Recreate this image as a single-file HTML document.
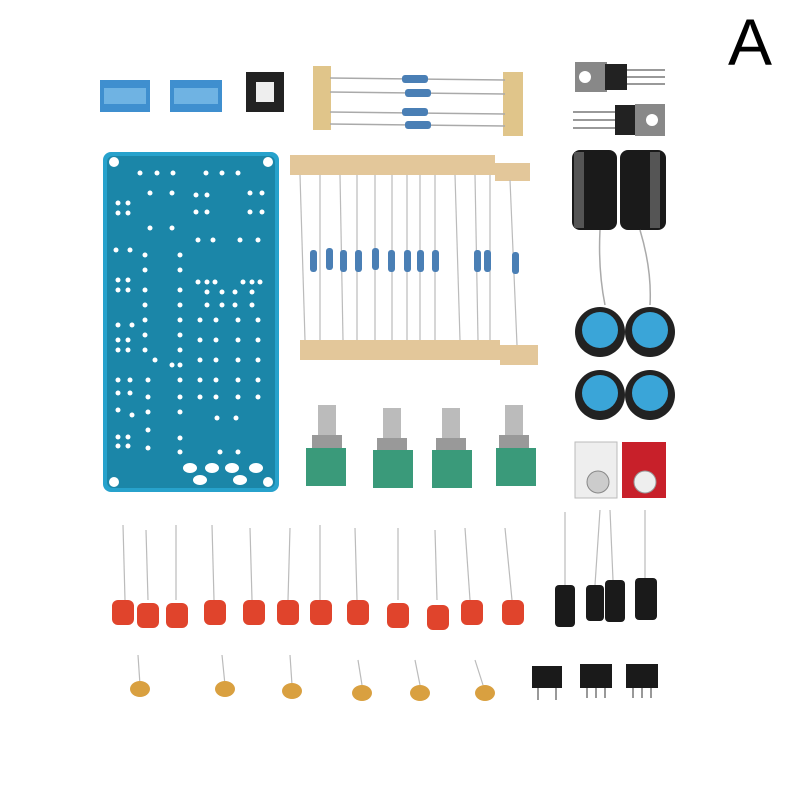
<!DOCTYPE html>
<html><head><style>html,body{margin:0;padding:0;background:#fff}svg{display:block}</style></head><body>
<svg width="800" height="800" viewBox="0 0 800 800" xmlns="http://www.w3.org/2000/svg">
<rect width="800" height="800" fill="#fff"/>
<text x="750" y="65" font-family="Liberation Sans, sans-serif" font-size="66" text-anchor="middle" fill="#000">A</text>
<!-- top connectors -->
<rect x="100" y="80" width="50" height="32" fill="#3f8fcf"/><rect x="104" y="88" width="42" height="16" fill="#6fb3e3"/>
<rect x="170" y="80" width="52" height="32" fill="#3f8fcf"/><rect x="174" y="88" width="44" height="16" fill="#6fb3e3"/>
<rect x="246" y="72" width="38" height="40" fill="#222"/><rect x="256" y="82" width="18" height="20" fill="#eee"/>
<!-- top resistors -->
<rect x="313" y="66" width="18" height="64" fill="#e0c58a"/><rect x="503" y="72" width="20" height="64" fill="#e0c58a"/>
<g stroke="#aaa" stroke-width="1.5"><line x1="330" y1="78" x2="505" y2="80"/><line x1="330" y1="92" x2="505" y2="94"/><line x1="330" y1="112" x2="505" y2="114"/><line x1="330" y1="124" x2="505" y2="126"/></g>
<g fill="#4a7fb5"><rect x="402" y="75" width="26" height="8" rx="3"/><rect x="405" y="89" width="26" height="8" rx="3"/><rect x="402" y="108" width="26" height="8" rx="3"/><rect x="405" y="121" width="26" height="8" rx="3"/></g>
<!-- transistors -->
<rect x="575" y="62" width="32" height="30" fill="#888"/><circle cx="585" cy="77" r="6" fill="#fff"/><rect x="605" y="64" width="22" height="26" fill="#222"/>
<g stroke="#999" stroke-width="2"><line x1="627" y1="70" x2="665" y2="70"/><line x1="627" y1="77" x2="665" y2="77"/><line x1="627" y1="84" x2="665" y2="84"/></g>
<rect x="615" y="105" width="22" height="30" fill="#222"/><rect x="635" y="104" width="30" height="32" fill="#888"/><circle cx="652" cy="120" r="6" fill="#fff"/>
<g stroke="#999" stroke-width="2"><line x1="573" y1="112" x2="615" y2="112"/><line x1="573" y1="120" x2="615" y2="120"/><line x1="573" y1="128" x2="615" y2="128"/></g>
<!-- big caps -->
<rect x="572" y="150" width="45" height="80" rx="8" fill="#1a1a1a"/><rect x="620" y="150" width="46" height="80" rx="8" fill="#1a1a1a"/>
<rect x="574" y="152" width="10" height="76" fill="#555"/><rect x="650" y="152" width="10" height="76" fill="#555"/>
<g stroke="#aaa" stroke-width="1.5" fill="none"><path d="M600 230 Q598 270 605 305"/><path d="M640 230 Q652 270 650 305"/></g>
<!-- knobs -->
<g><circle cx="600" cy="332" r="25" fill="#222"/><circle cx="600" cy="330" r="18" fill="#3aa5d8"/>
<circle cx="650" cy="332" r="25" fill="#222"/><circle cx="650" cy="330" r="18" fill="#3aa5d8"/>
<circle cx="600" cy="395" r="25" fill="#222"/><circle cx="600" cy="393" r="18" fill="#3aa5d8"/>
<circle cx="650" cy="395" r="25" fill="#222"/><circle cx="650" cy="393" r="18" fill="#3aa5d8"/></g>
<!-- resistor band -->
<rect x="290" y="155" width="205" height="20" fill="#e3c79a"/><rect x="495" y="163" width="35" height="18" fill="#e3c79a"/>
<rect x="300" y="340" width="200" height="20" fill="#e3c79a"/><rect x="500" y="345" width="38" height="20" fill="#e3c79a"/>
<g stroke="#bbb" stroke-width="1.2">
<line x1="300" y1="175" x2="305" y2="340"/><line x1="320" y1="175" x2="320" y2="340"/><line x1="340" y1="175" x2="343" y2="340"/><line x1="357" y1="175" x2="357" y2="340"/><line x1="375" y1="175" x2="375" y2="340"/><line x1="392" y1="175" x2="392" y2="340"/><line x1="407" y1="175" x2="407" y2="340"/><line x1="420" y1="175" x2="420" y2="340"/><line x1="435" y1="175" x2="435" y2="340"/><line x1="455" y1="175" x2="460" y2="340"/><line x1="475" y1="175" x2="478" y2="340"/><line x1="490" y1="175" x2="490" y2="340"/><line x1="510" y1="180" x2="517" y2="345"/></g>
<g fill="#4a7fb5"><rect x="310" y="250" width="7" height="22" rx="3"/><rect x="326" y="248" width="7" height="22" rx="3"/><rect x="340" y="250" width="7" height="22" rx="3"/><rect x="355" y="250" width="7" height="22" rx="3"/><rect x="372" y="248" width="7" height="22" rx="3"/><rect x="388" y="250" width="7" height="22" rx="3"/><rect x="404" y="250" width="7" height="22" rx="3"/><rect x="417" y="250" width="7" height="22" rx="3"/><rect x="432" y="250" width="7" height="22" rx="3"/><rect x="474" y="250" width="7" height="22" rx="3"/><rect x="484" y="250" width="7" height="22" rx="3"/><rect x="512" y="252" width="7" height="22" rx="3"/></g>
<!-- PCB -->
<rect x="103" y="152" width="176" height="340" rx="8" fill="#27a2cc"/>
<rect x="107" y="156" width="168" height="332" rx="6" fill="#1b86a8"/>
<g fill="#fff"><circle cx="114" cy="162" r="5"/><circle cx="268" cy="162" r="5"/><circle cx="114" cy="482" r="5"/><circle cx="268" cy="482" r="5"/>
<ellipse cx="190" cy="468" rx="7" ry="5"/><ellipse cx="212" cy="468" rx="7" ry="5"/><ellipse cx="232" cy="468" rx="7" ry="5"/><ellipse cx="256" cy="468" rx="7" ry="5"/><ellipse cx="200" cy="480" rx="7" ry="5"/><ellipse cx="240" cy="480" rx="7" ry="5"/></g>
<g fill="#fff">
<circle cx="140" cy="173" r="2.5"/><circle cx="157" cy="173" r="2.5"/><circle cx="173" cy="173" r="2.5"/><circle cx="206" cy="173" r="2.5"/><circle cx="222" cy="173" r="2.5"/><circle cx="238" cy="173" r="2.5"/>
<circle cx="150" cy="193" r="2.5"/><circle cx="172" cy="193" r="2.5"/><circle cx="196" cy="195" r="2.5"/><circle cx="207" cy="195" r="2.5"/><circle cx="250" cy="193" r="2.5"/><circle cx="262" cy="193" r="2.5"/>
<circle cx="118" cy="203" r="2.5"/><circle cx="128" cy="203" r="2.5"/><circle cx="118" cy="213" r="2.5"/><circle cx="128" cy="213" r="2.5"/><circle cx="196" cy="212" r="2.5"/><circle cx="207" cy="212" r="2.5"/><circle cx="250" cy="212" r="2.5"/><circle cx="262" cy="212" r="2.5"/>
<circle cx="150" cy="228" r="2.5"/><circle cx="172" cy="228" r="2.5"/><circle cx="213" cy="240" r="2.5"/><circle cx="240" cy="240" r="2.5"/><circle cx="198" cy="240" r="2.5"/><circle cx="258" cy="240" r="2.5"/>
<circle cx="116" cy="250" r="2.5"/><circle cx="130" cy="250" r="2.5"/><circle cx="145" cy="255" r="2.5"/><circle cx="180" cy="255" r="2.5"/>
<circle cx="145" cy="270" r="2.5"/><circle cx="180" cy="270" r="2.5"/><circle cx="118" cy="280" r="2.5"/><circle cx="128" cy="280" r="2.5"/><circle cx="118" cy="290" r="2.5"/><circle cx="128" cy="290" r="2.5"/><circle cx="198" cy="282" r="2.5"/><circle cx="207" cy="282" r="2.5"/><circle cx="215" cy="282" r="2.5"/><circle cx="243" cy="282" r="2.5"/><circle cx="252" cy="282" r="2.5"/><circle cx="260" cy="282" r="2.5"/>
<circle cx="145" cy="290" r="2.5"/><circle cx="180" cy="290" r="2.5"/><circle cx="207" cy="292" r="2.5"/><circle cx="222" cy="292" r="2.5"/><circle cx="235" cy="292" r="2.5"/><circle cx="252" cy="292" r="2.5"/>
<circle cx="145" cy="305" r="2.5"/><circle cx="180" cy="305" r="2.5"/><circle cx="207" cy="305" r="2.5"/><circle cx="222" cy="305" r="2.5"/><circle cx="235" cy="305" r="2.5"/><circle cx="252" cy="305" r="2.5"/>
<circle cx="118" cy="325" r="2.5"/><circle cx="132" cy="325" r="2.5"/><circle cx="145" cy="320" r="2.5"/><circle cx="180" cy="320" r="2.5"/><circle cx="200" cy="320" r="2.5"/><circle cx="216" cy="320" r="2.5"/><circle cx="238" cy="320" r="2.5"/><circle cx="258" cy="320" r="2.5"/>
<circle cx="118" cy="340" r="2.5"/><circle cx="128" cy="340" r="2.5"/><circle cx="118" cy="350" r="2.5"/><circle cx="128" cy="350" r="2.5"/><circle cx="145" cy="335" r="2.5"/><circle cx="180" cy="335" r="2.5"/><circle cx="200" cy="340" r="2.5"/><circle cx="216" cy="340" r="2.5"/><circle cx="238" cy="340" r="2.5"/><circle cx="258" cy="340" r="2.5"/>
<circle cx="145" cy="350" r="2.5"/><circle cx="180" cy="350" r="2.5"/><circle cx="200" cy="360" r="2.5"/><circle cx="216" cy="360" r="2.5"/><circle cx="238" cy="360" r="2.5"/><circle cx="258" cy="360" r="2.5"/>
<circle cx="155" cy="360" r="2.5"/><circle cx="172" cy="365" r="2.5"/><circle cx="180" cy="365" r="2.5"/><circle cx="118" cy="380" r="2.5"/><circle cx="130" cy="380" r="2.5"/><circle cx="118" cy="393" r="2.5"/><circle cx="130" cy="393" r="2.5"/>
<circle cx="148" cy="380" r="2.5"/><circle cx="180" cy="380" r="2.5"/><circle cx="200" cy="380" r="2.5"/><circle cx="216" cy="380" r="2.5"/><circle cx="238" cy="380" r="2.5"/><circle cx="258" cy="380" r="2.5"/>
<circle cx="148" cy="397" r="2.5"/><circle cx="180" cy="397" r="2.5"/><circle cx="200" cy="397" r="2.5"/><circle cx="216" cy="397" r="2.5"/><circle cx="238" cy="397" r="2.5"/><circle cx="258" cy="397" r="2.5"/>
<circle cx="118" cy="410" r="2.5"/><circle cx="132" cy="415" r="2.5"/><circle cx="148" cy="412" r="2.5"/><circle cx="180" cy="412" r="2.5"/><circle cx="217" cy="418" r="2.5"/><circle cx="236" cy="418" r="2.5"/>
<circle cx="118" cy="437" r="2.5"/><circle cx="128" cy="437" r="2.5"/><circle cx="118" cy="446" r="2.5"/><circle cx="128" cy="446" r="2.5"/><circle cx="148" cy="430" r="2.5"/><circle cx="180" cy="438" r="2.5"/><circle cx="148" cy="448" r="2.5"/><circle cx="180" cy="452" r="2.5"/><circle cx="220" cy="452" r="2.5"/><circle cx="238" cy="452" r="2.5"/>
</g>
<!-- pots -->
<g>
<rect x="318" y="405" width="18" height="35" fill="#bbb"/><rect x="312" y="435" width="30" height="15" fill="#999"/><rect x="306" y="448" width="40" height="38" fill="#3a9a7a"/>
<rect x="383" y="408" width="18" height="35" fill="#bbb"/><rect x="377" y="438" width="30" height="15" fill="#999"/><rect x="373" y="450" width="40" height="38" fill="#3a9a7a"/>
<rect x="442" y="408" width="18" height="35" fill="#bbb"/><rect x="436" y="438" width="30" height="15" fill="#999"/><rect x="432" y="450" width="40" height="38" fill="#3a9a7a"/>
<rect x="505" y="405" width="18" height="35" fill="#bbb"/><rect x="499" y="435" width="30" height="15" fill="#999"/><rect x="496" y="448" width="40" height="38" fill="#3a9a7a"/>
</g>
<!-- RCA jacks -->
<rect x="575" y="442" width="42" height="56" fill="#eee" stroke="#bbb"/><circle cx="598" cy="482" r="11" fill="#ccc" stroke="#888"/>
<rect x="622" y="442" width="44" height="56" fill="#c8202a"/><circle cx="645" cy="482" r="11" fill="#eee" stroke="#999"/>
<!-- ceramic caps -->
<g stroke="#bbb" stroke-width="1.2">
<line x1="123" y1="525" x2="125" y2="600"/><line x1="146" y1="530" x2="148" y2="600"/><line x1="176" y1="525" x2="176" y2="600"/><line x1="212" y1="525" x2="214" y2="600"/><line x1="250" y1="528" x2="252" y2="600"/><line x1="290" y1="528" x2="288" y2="600"/><line x1="320" y1="525" x2="320" y2="600"/><line x1="355" y1="528" x2="357" y2="600"/><line x1="398" y1="528" x2="398" y2="600"/><line x1="435" y1="530" x2="437" y2="600"/><line x1="465" y1="528" x2="470" y2="600"/><line x1="505" y1="528" x2="512" y2="600"/>
<line x1="565" y1="512" x2="565" y2="585"/><line x1="600" y1="510" x2="595" y2="585"/><line x1="610" y1="510" x2="613" y2="580"/><line x1="645" y1="510" x2="645" y2="580"/>
</g>
<g fill="#e0442c">
<rect x="112" y="600" width="22" height="25" rx="6"/><rect x="137" y="603" width="22" height="25" rx="6"/><rect x="166" y="603" width="22" height="25" rx="6"/><rect x="204" y="600" width="22" height="25" rx="6"/><rect x="243" y="600" width="22" height="25" rx="6"/><rect x="277" y="600" width="22" height="25" rx="6"/><rect x="310" y="600" width="22" height="25" rx="6"/><rect x="347" y="600" width="22" height="25" rx="6"/><rect x="387" y="603" width="22" height="25" rx="6"/><rect x="427" y="605" width="22" height="25" rx="6"/><rect x="461" y="600" width="22" height="25" rx="6"/><rect x="502" y="600" width="22" height="25" rx="6"/></g>
<!-- small electrolytics -->
<g fill="#1a1a1a"><rect x="555" y="585" width="20" height="42" rx="4"/><rect x="586" y="585" width="18" height="36" rx="4"/><rect x="605" y="580" width="20" height="42" rx="4"/><rect x="635" y="578" width="22" height="42" rx="4"/></g>
<!-- tan caps -->
<g stroke="#bbb" stroke-width="1.2"><line x1="138" y1="655" x2="140" y2="685"/><line x1="222" y1="655" x2="225" y2="685"/><line x1="290" y1="655" x2="292" y2="685"/><line x1="358" y1="660" x2="362" y2="685"/><line x1="415" y1="660" x2="420" y2="685"/><line x1="475" y1="660" x2="483" y2="685"/></g>
<g fill="#d9a040"><ellipse cx="140" cy="689" rx="10" ry="8"/><ellipse cx="225" cy="689" rx="10" ry="8"/><ellipse cx="292" cy="691" rx="10" ry="8"/><ellipse cx="362" cy="693" rx="10" ry="8"/><ellipse cx="420" cy="693" rx="10" ry="8"/><ellipse cx="485" cy="693" rx="10" ry="8"/></g>
<!-- ICs -->
<g fill="#1a1a1a"><rect x="532" y="666" width="30" height="22"/><rect x="580" y="664" width="32" height="24"/><rect x="626" y="664" width="32" height="24"/></g>
<g stroke="#999" stroke-width="2"><line x1="538" y1="688" x2="538" y2="700"/><line x1="556" y1="688" x2="556" y2="700"/><line x1="587" y1="688" x2="587" y2="698"/><line x1="596" y1="688" x2="596" y2="698"/><line x1="605" y1="688" x2="605" y2="698"/><line x1="633" y1="688" x2="633" y2="698"/><line x1="642" y1="688" x2="642" y2="698"/><line x1="651" y1="688" x2="651" y2="698"/></g>
</svg>
</body></html>
